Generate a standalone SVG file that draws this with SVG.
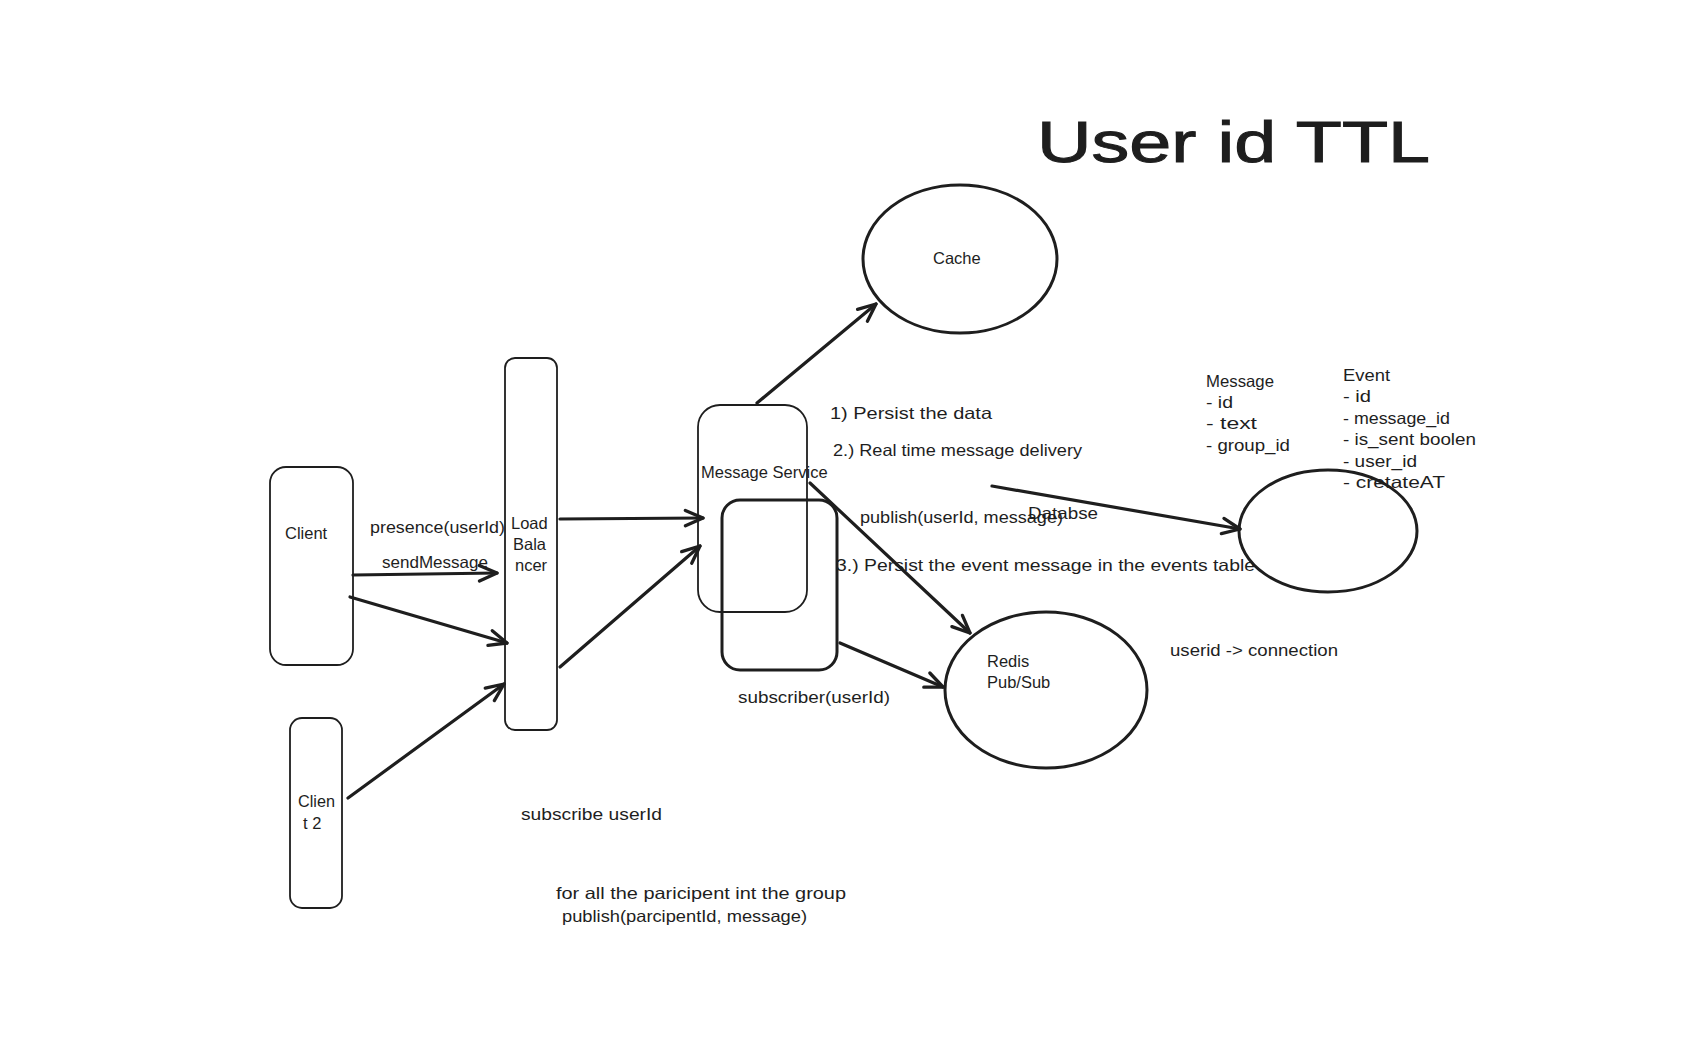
<svg xmlns="http://www.w3.org/2000/svg" width="1696" height="1058" viewBox="0 0 1696 1058">
<defs>
<style>
.t{font-family:"Liberation Sans","DejaVu Sans",sans-serif;font-size:16.5px;fill:#1e1e1e}
.box{fill:none;stroke:#1e1e1e;stroke-width:1.8}
.boxb{fill:none;stroke:#1e1e1e;stroke-width:3}
.ell{fill:none;stroke:#1e1e1e;stroke-width:3}
.edge{fill:none;stroke:#1e1e1e;stroke-width:3.2;stroke-linecap:round}
</style>
<marker id="ah" viewBox="0 0 20 20" refX="18" refY="10" markerWidth="22" markerHeight="22" orient="auto" markerUnits="userSpaceOnUse">
<path d="M2,3 L18,10 L2,17" fill="none" stroke="#1e1e1e" stroke-width="3" stroke-linecap="round" stroke-linejoin="round"/>
</marker>
</defs>
<rect width="1696" height="1058" fill="#ffffff"/>

<text class="t" x="1037" y="162" style="font-size:58px;stroke:#1e1e1e;stroke-width:1" textLength="393" lengthAdjust="spacingAndGlyphs">User id  TTL</text>

<g id="client">
<rect class="box" x="270" y="467" width="83" height="198" rx="16"/>
<text class="t" x="285" y="539">Client</text>
</g>
<g id="client2">
<rect class="box" x="290" y="718" width="52" height="190" rx="12"/>
<text class="t" x="298" y="807" textLength="37" lengthAdjust="spacingAndGlyphs">Clien</text>
<text class="t" x="303" y="829">t 2</text>
</g>
<g id="loadbalancer">
<rect class="box" x="505" y="358" width="52" height="372" rx="10"/>
<text class="t" x="511" y="529">Load</text>
<text class="t" x="513" y="550">Bala</text>
<text class="t" x="515" y="571">ncer</text>
</g>
<g id="messageservice">
<rect class="box" x="698" y="405" width="109" height="207" rx="22"/>
<text class="t" x="701" y="478">Message Service</text>
</g>
<g id="subscriber">
<rect class="boxb" x="722" y="500" width="115" height="170" rx="18"/>
</g>
<g id="cache">
<ellipse class="ell" cx="960" cy="259" rx="97" ry="74"/>
<text class="t" x="933" y="264">Cache</text>
</g>
<g id="redis">
<ellipse class="ell" cx="1046" cy="690" rx="101" ry="78"/>
<text class="t" x="987" y="667">Redis</text>
<text class="t" x="987" y="688">Pub/Sub</text>
</g>
<g id="database">
<ellipse class="ell" cx="1328" cy="531" rx="89" ry="61"/>
</g>

<g id="connectors">
<path class="edge" d="M353,575 L497,573" marker-end="url(#ah)"/>
<path class="edge" d="M350,597 L507,643" marker-end="url(#ah)"/>
<path class="edge" d="M348,798 L504,684" marker-end="url(#ah)"/>
<path class="edge" d="M560,519 L703,518" marker-end="url(#ah)"/>
<path class="edge" d="M560,667 L700,546" marker-end="url(#ah)"/>
<path class="edge" d="M757,403 L876,304" marker-end="url(#ah)"/>
<path class="edge" d="M810,483 L970,633" marker-end="url(#ah)"/>
<path class="edge" d="M840,643 L943,687" marker-end="url(#ah)"/>
<path class="edge" d="M992,486 L1240,529" marker-end="url(#ah)"/>
</g>

<g id="labels">
<text class="t" x="370" y="533" textLength="135" lengthAdjust="spacingAndGlyphs">presence(userId)</text>
<text class="t" x="382" y="568" textLength="106" lengthAdjust="spacingAndGlyphs">sendMessage</text>
<text class="t" x="830" y="419" textLength="162" lengthAdjust="spacingAndGlyphs">1) Persist the data</text>
<text class="t" x="833" y="456" textLength="249" lengthAdjust="spacingAndGlyphs">2.) Real time message delivery</text>
<text class="t" x="860" y="523" textLength="203" lengthAdjust="spacingAndGlyphs">publish(userId, message)</text>
<text class="t" x="1028" y="519" textLength="70" lengthAdjust="spacingAndGlyphs">Databse</text>
<text class="t" x="836" y="571" textLength="419" lengthAdjust="spacingAndGlyphs">3.) Persist the event message in the events table</text>
<text class="t" x="738" y="703" textLength="152" lengthAdjust="spacingAndGlyphs">subscriber(userId)</text>
<text class="t" x="1170" y="656" textLength="168" lengthAdjust="spacingAndGlyphs">userid -&gt; connection</text>
<text class="t" x="521" y="820" textLength="141" lengthAdjust="spacingAndGlyphs">subscribe userId</text>
<text class="t" x="556" y="899" textLength="290" lengthAdjust="spacingAndGlyphs">for all the paricipent int the group</text>
<text class="t" x="562" y="922" textLength="245" lengthAdjust="spacingAndGlyphs">publish(parcipentId, message)</text>
</g>

<g id="message-table">
<text class="t" x="1206" y="387" textLength="68" lengthAdjust="spacingAndGlyphs">Message</text>
<text class="t" x="1206" y="408" textLength="27" lengthAdjust="spacingAndGlyphs">- id</text>
<text class="t" x="1206" y="429" textLength="51" lengthAdjust="spacingAndGlyphs">- text</text>
<text class="t" x="1206" y="451" textLength="84" lengthAdjust="spacingAndGlyphs">- group_id</text>
</g>
<g id="event-table">
<text class="t" x="1343" y="381" textLength="47" lengthAdjust="spacingAndGlyphs">Event</text>
<text class="t" x="1343" y="402" textLength="28" lengthAdjust="spacingAndGlyphs">- id</text>
<text class="t" x="1343" y="424" textLength="107" lengthAdjust="spacingAndGlyphs">- message_id</text>
<text class="t" x="1343" y="445" textLength="133" lengthAdjust="spacingAndGlyphs">- is_sent boolen</text>
<text class="t" x="1343" y="467" textLength="74" lengthAdjust="spacingAndGlyphs">- user_id</text>
<text class="t" x="1343" y="488" textLength="102" lengthAdjust="spacingAndGlyphs">- cretateAT</text>
</g>
</svg>
